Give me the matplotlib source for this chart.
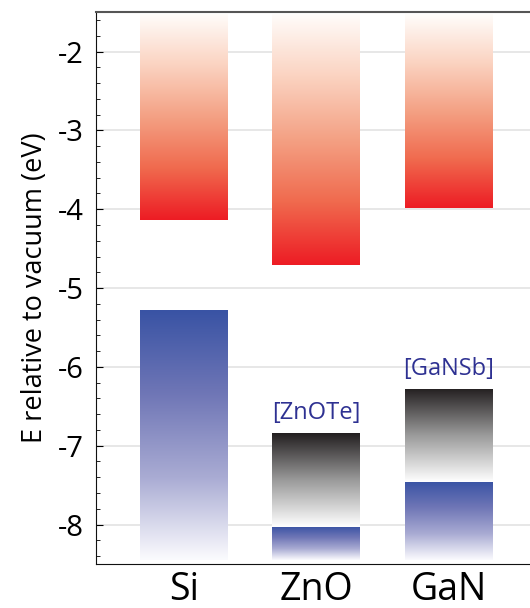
import numpy as np
import matplotlib
matplotlib.use('Agg')
import matplotlib.pyplot as plt
from matplotlib.colors import LinearSegmentedColormap
from matplotlib.ticker import MultipleLocator

plt.rcParams['font.family'] = ['Open Sans', 'DejaVu Sans']
plt.rcParams['axes.unicode_minus'] = False

# band edges (eV relative to vacuum)
materials = ['Si', 'ZnO', 'GaN']
cb_edge = [-4.14, -4.71, -3.98]      # conduction band minimum
vb_edge = [-5.28, -8.03, -7.46]      # valence band maximum
imp_top = [None, -6.84, -6.28]       # top of the alloy (impurity) band
imp_labels = ['', '[ZnOTe]', '[GaNSb]']
band_top = -1.52
band_bottom = -8.45

# colour maps, value 0 = bottom of the segment
cb_cmap = LinearSegmentedColormap.from_list('cb', ['#ed1c24', '#f06a4e', '#f4a184', '#fbd3c1', '#fffdfb'])
vb_cmap = LinearSegmentedColormap.from_list('vb', ['#fbfbfe', '#a9abd3', '#6f76b6', '#3953a4'])
imp_cmap = LinearSegmentedColormap.from_list('imp', ['#ffffff', '#9a9a9a', '#231f20'])

fig = plt.figure(figsize=(5.3, 6.08), dpi=100)
ax = fig.add_axes([0.181, 0.0724, 0.819, 0.9076])

width = 0.66
grad = np.linspace(0, 1, 256).reshape(-1, 1)


def gradient_bar(x, y0, y1, cmap):
    # invisible bar gives the shape, the image gives the fill
    rect = ax.bar(x, y1 - y0, bottom=y0, width=width, color='none', linewidth=0, zorder=2)[0]
    im = ax.imshow(grad, cmap=cmap, origin='lower', aspect='auto', interpolation='bilinear',
                   extent=[x - width / 2, x + width / 2, y0, y1], zorder=2)
    im.set_clip_path(rect)


for i, name in enumerate(materials):
    gradient_bar(i, cb_edge[i], band_top, cb_cmap)
    gradient_bar(i, band_bottom, vb_edge[i], vb_cmap)
    if imp_top[i] is not None:
        gradient_bar(i, vb_edge[i], imp_top[i], imp_cmap)
        ax.text(i, imp_top[i] + 0.25, imp_labels[i], ha='center', va='center',
                color='#2e3192', fontsize=17)

ax.set_xlim(-0.665, 2.617)
ax.set_ylim(-8.5, -1.5)
ax.set_xticks(range(len(materials)))
ax.set_xticklabels(materials, fontsize=27)
ax.tick_params(axis='x', length=0, pad=5)
ax.yaxis.set_major_locator(MultipleLocator(1))
ax.yaxis.set_minor_locator(MultipleLocator(0.2))
ax.tick_params(axis='y', which='major', direction='in', length=5, labelsize=21, pad=9)
ax.tick_params(axis='y', which='minor', direction='in', length=3)
ax.set_ylabel('E relative to vacuum (eV)', fontsize=19.5, labelpad=6)
ax.grid(axis='y', color='#e3e3e3', linewidth=1.2, zorder=0)
ax.set_axisbelow(True)
ax.spines['right'].set_visible(False)
for s in ['left', 'bottom']:
    ax.spines[s].set_color('#111111')
ax.spines['top'].set_color('#555555')
ax.spines['top'].set_linewidth(1.5)

fig.savefig('out.png', dpi=100)
